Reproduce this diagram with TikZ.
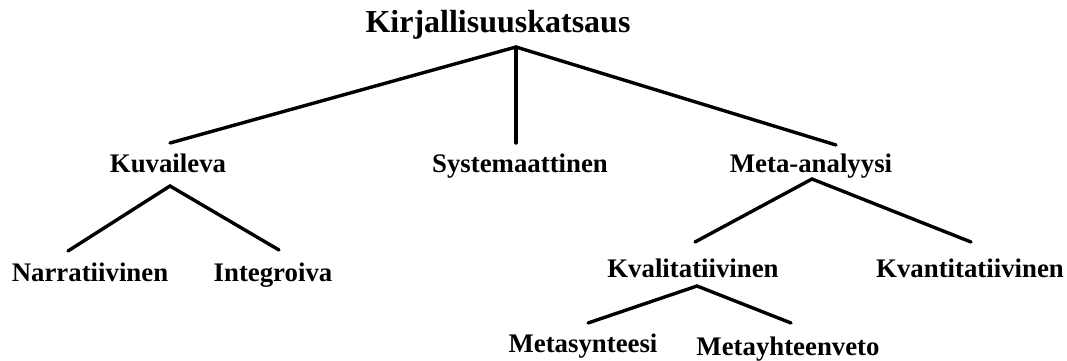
\documentclass[tikz,border=0pt]{standalone}
\usepackage{fontspec}
\setmainfont{Liberation Serif}
\begin{document}
\begin{tikzpicture}[x=1pt,y=-1pt,
  lbl/.style={anchor=base,inner sep=0pt,font=\fontsize{26.8}{30}\selectfont\bfseries},
  ttl/.style={anchor=base,inner sep=0pt,font=\fontsize{32}{36}\selectfont\bfseries},
  edge/.style={line width=3.4pt,line cap=round}]
\useasboundingbox[fill=white] (0,0) rectangle (1067,361);
% texts
\node[ttl] (root) at (498,33) {Kirjallisuuskatsaus};
\node[lbl] (kuv) at (168,172) {Kuvaileva};
\node[lbl] (sys) at (520,172) {Systemaattinen};
\node[lbl] (meta) at (811,172) {Meta-analyysi};
\node[lbl] (narr) at (90,281) {Narratiivinen};
\node[lbl] (integ) at (273,281) {Integroiva};
\node[lbl] (kval) at (693,277) {Kvalitatiivinen};
\node[lbl] (kvan) at (970,277) {Kvantitatiivinen};
\node[lbl] (msyn) at (583,352) {Metasynteesi};
\node[lbl] (myht) at (788,355) {Metayhteenveto};
% connector points
\coordinate (rootA) at (516,47);
\coordinate (kuvT) at (170,143);
\coordinate (sysT) at (516,143);
\coordinate (metaT) at (836,145);
\coordinate (kuvA) at (170,186);
\coordinate (narrT) at (68,251);
\coordinate (integT) at (279,250);
\coordinate (metaA) at (812,179);
\coordinate (kvalT) at (695,242);
\coordinate (kvanT) at (971,242);
\coordinate (kvalA) at (697,286);
\coordinate (msynT) at (588,323);
\coordinate (myhtT) at (791,323);
% connectors
\draw[edge] (kuvT) -- (rootA) -- (metaT);
\draw[edge] (rootA) -- (sysT);
\draw[edge] (narrT) -- (kuvA) -- (integT);
\draw[edge] (kvalT) -- (metaA) -- (kvanT);
\draw[edge] (msynT) -- (kvalA) -- (myhtT);
\end{tikzpicture}
\end{document}
